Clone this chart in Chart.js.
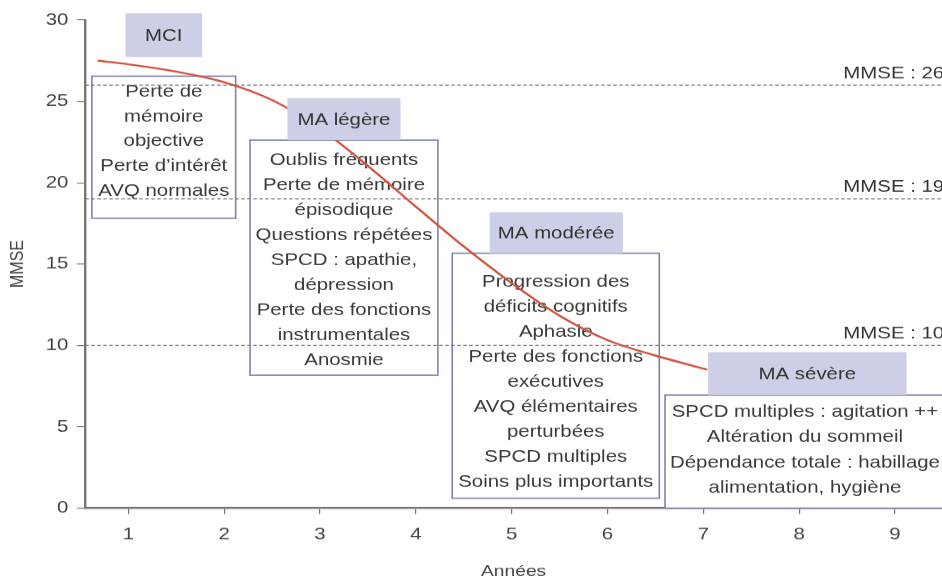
<!DOCTYPE html>
<html lang="fr">
<head>
<meta charset="utf-8">
<title>MMSE</title>
<script src="https://cdn.jsdelivr.net/npm/chart.js@4"></script>
<style>
  html, body { margin: 0; padding: 0; background: #fff; overflow: hidden; }
  /* l'image d'origine est étirée horizontalement */
  #cadre { width: 785px; height: 581px; transform: scaleX(1.2); transform-origin: 0 0; }
</style>
</head>
<body>
<div id="cadre"><canvas id="grafico" width="785" height="581"></canvas></div>
<script>
const annees = [0.68, 1, 1.5, 2, 2.5, 3, 3.5, 4, 4.5, 5, 5.5, 6, 6.5, 7.04];
const mmse = [27.5, 27.28, 26.83, 26.18, 25.08, 23.33, 21.03, 18.53, 16.08, 13.83, 11.83, 10.33, 9.38, 8.52];
const ticksAnnees = [1, 2, 3, 4, 5, 6, 7, 8, 9];
const ticksMmse = [0, 5, 10, 15, 20, 25, 30];
const seuils = [26, 19, 10];
const seuilsTextes = ['MMSE : 26', 'MMSE : 19', 'MMSE : 10'];
const stades = ['MCI', 'MA légère', 'MA modérée', 'MA sévère'];
const symptomes = [
    ['Perte de', 'mémoire', 'objective', 'Perte d’intérêt', 'AVQ normales'],
    ['Oublis fréquents', 'Perte de mémoire', 'épisodique', 'Questions répétées', 'SPCD : apathie,', 'dépression', 'Perte des fonctions', 'instrumentales', 'Anosmie'],
    ['Progression des', 'déficits cognitifs', 'Aphasie', 'Perte des fonctions', 'exécutives', 'AVQ élémentaires', 'perturbées', 'SPCD multiples', 'Soins plus importants'],
    ['SPCD multiples : agitation ++', 'Altération du sommeil', 'Dépendance totale : habillage', 'alimentation, hygiène']
];

// placement des boîtes, en unités des axes (années / MMSE)
const etiquettes = [
    { x0: 0.97, x1: 1.77, y0: 27.72, y1: 30.42 },
    { x0: 2.66, x1: 3.84, y0: 22.62, y1: 25.2 },
    { x0: 4.77, x1: 6.16, y0: 15.67, y1: 18.19 },
    { x0: 7.05, x1: 9.12, y0: 6.95, y1: 9.59 }
];
const cadres = [
    { x0: 0.62, x1: 2.12, y0: 17.82, y1: 26.55, haut: 16, pas: 24.7 },
    { x0: 2.27, x1: 4.23, y0: 8.17, y1: 22.62, haut: 20, pas: 25 },
    { x0: 4.38, x1: 6.54, y0: 0.61, y1: 15.67, haut: 29, pas: 25 },
    { x0: 6.60, x1: 9.53, y0: 0, y1: 6.95, haut: 17, pas: 25.3, cx: 8.06 }
];
const xTexteSeuil = 8.46;

const police = '"Liberation Sans", Arial, sans-serif';
Chart.defaults.font.family = police;

const phases = {
    id: 'phases',
    beforeDatasetsDraw(chart) {
        const { ctx, chartArea, scales: { x, y } } = chart;
        ctx.save();
        ctx.font = '17px ' + police;
        ctx.textAlign = 'center';
        ctx.textBaseline = 'middle';
        cadres.forEach((c, i) => {
            const l = x.getPixelForValue(c.x0), r = x.getPixelForValue(c.x1);
            const t = y.getPixelForValue(c.y1), b = y.getPixelForValue(c.y0);
            ctx.fillStyle = '#fff';
            ctx.fillRect(l, t, r - l, b - t);
            ctx.strokeStyle = 'rgb(122,128,172)';
            ctx.lineWidth = 1.3;
            ctx.strokeRect(l, t, r - l, b - t);
            const cx = c.cx !== undefined ? x.getPixelForValue(c.cx) : (l + r) / 2;
            ctx.fillStyle = '#3a3a3a';
            symptomes[i].forEach((txt, k) => ctx.fillText(txt, cx, t + c.haut + k * c.pas));
        });

        // lignes des seuils MMSE
        ctx.setLineDash([3, 2]);
        ctx.strokeStyle = '#7a7a7a';
        ctx.lineWidth = 1;
        ctx.textAlign = 'left';
        ctx.textBaseline = 'alphabetic';
        ctx.fillStyle = '#333';
        seuils.forEach((s, i) => {
            const py = y.getPixelForValue(s);
            ctx.beginPath();
            ctx.moveTo(chartArea.left, py);
            ctx.lineTo(chartArea.right, py);
            ctx.stroke();
            ctx.fillText(seuilsTextes[i], x.getPixelForValue(xTexteSeuil), py - 7);
        });
        ctx.restore();
    },
    afterDatasetsDraw(chart) {
        const { ctx, scales: { x, y } } = chart;
        ctx.save();
        ctx.font = '17px ' + police;
        ctx.textAlign = 'center';
        ctx.textBaseline = 'middle';
        etiquettes.forEach((e, i) => {
            const l = x.getPixelForValue(e.x0), r = x.getPixelForValue(e.x1);
            const t = y.getPixelForValue(e.y1), b = y.getPixelForValue(e.y0);
            ctx.fillStyle = 'rgb(204,207,229)';
            ctx.fillRect(l, t, r - l, b - t);
            ctx.fillStyle = '#333';
            ctx.fillText(stades[i], (l + r) / 2, (t + b) / 2 + 1);
        });
        ctx.restore();
    }
};

new Chart(document.getElementById('grafico'), {
    type: 'line',
    data: {
        datasets: [{
            data: annees.map((a, i) => ({ x: a, y: mmse[i] })),
            borderColor: 'rgb(208,84,62)',
            borderWidth: 2,
            pointRadius: 0,
            cubicInterpolationMode: 'monotone',
            fill: false
        }]
    },
    options: {
        responsive: false,
        animation: false,
        devicePixelRatio: 1.2,
        layout: { padding: { top: 20, right: 0, bottom: 0, left: 0 } },
        plugins: {
            legend: { display: false },
            tooltip: { enabled: false }
        },
        scales: {
            x: {
                type: 'linear',
                min: 0.55,
                max: 9.49,
                afterBuildTicks: s => { s.ticks = ticksAnnees.map(v => ({ value: v })); },
                afterFit: s => { s.height = 73; },
                grid: { drawOnChartArea: false, tickLength: 6, color: '#777', lineWidth: 1 },
                border: { color: '#777', width: 2 },
                ticks: { color: '#444', font: { size: 17 }, padding: 10 },
                title: { display: true, text: 'Années', color: '#444', font: { size: 16 }, padding: 0 }
            },
            y: {
                min: 0,
                max: 30,
                afterBuildTicks: s => { s.ticks = ticksMmse.map(v => ({ value: v })); },
                afterFit: s => { s.width = 71; },
                grid: { drawOnChartArea: false, tickLength: 7, color: '#777', lineWidth: 1 },
                border: { color: '#777', width: 2 },
                ticks: { color: '#444', font: { size: 17 }, padding: 7 },
                title: { display: true, text: 'MMSE', color: '#444', font: { size: 16 }, padding: { top: 5, bottom: 4 } }
            }
        }
    },
    plugins: [phases]
});
</script>
</body>
</html>
